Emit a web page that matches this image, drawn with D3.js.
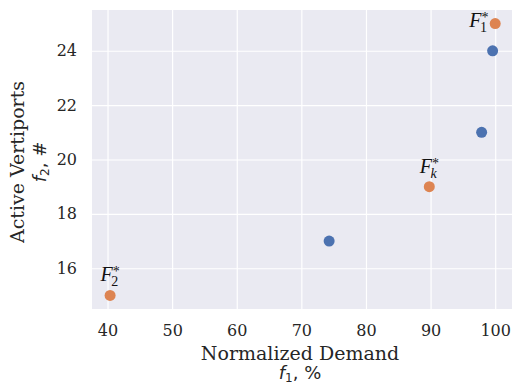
<!DOCTYPE html>
<html><head><meta charset="utf-8">
<script src="https://cdn.jsdelivr.net/npm/d3@7"></script>
<style>body{margin:0;background:#fff}</style>
</head><body>
<svg id="c" width="512" height="385"></svg>
<script>
// Data
const paretoX = [99.6, 97.9, 74.3];
const paretoY = [24, 21, 17];
const highlightX = [100, 89.8, 40.4];
const highlightY = [25, 19, 15];
const highlightSub = ["1", "k", "2"];
const xTicks = [40, 50, 60, 70, 80, 90, 100];
const yTicks = [16, 18, 20, 22, 24];

const svg = d3.select("#c");
const L = 92, R = 512, T = 10, B = 309;
const x = d3.scaleLinear().domain([37.6, 102.6]).range([L, R]);
const y = d3.scaleLinear().domain([14.5, 25.5]).range([B, T]);

svg.append("rect").attr("x", L).attr("y", T).attr("width", R - L).attr("height", B - T).attr("fill", "#eaeaf2");

const serif = "DejaVu Serif";
const xAxis = svg.append("g").attr("transform", `translate(0,${B})`)
  .call(d3.axisBottom(x).tickValues(xTicks).tickSize(-(B - T)).tickPadding(16));
const yAxis = svg.append("g").attr("transform", `translate(${L},0)`)
  .call(d3.axisLeft(y).tickValues(yTicks).tickSize(-(R - L)).tickPadding(15));
[xAxis, yAxis].forEach(g => {
  g.select(".domain").remove();
  g.selectAll(".tick line").attr("stroke", "#fff").attr("stroke-width", 1.2);
  g.selectAll(".tick text").attr("font-family", serif).attr("font-size", 16).attr("fill", "#262626");
});

const blue = "#4c72b0", orange = "#dd8452";
svg.append("g").selectAll("circle").data(paretoX).join("circle")
  .attr("cx", (d) => x(d)).attr("cy", (d, i) => y(paretoY[i])).attr("r", 5.5).attr("fill", blue);
svg.append("g").selectAll("circle").data(highlightX).join("circle")
  .attr("cx", (d) => x(d)).attr("cy", (d, i) => y(highlightY[i])).attr("r", 5.5).attr("fill", orange);

// Labels: F with stacked subscript and superscript
const labG = svg.append("g").attr("font-family", "Liberation Serif").attr("fill", "#111");
highlightX.forEach((d, i) => {
  const px = x(d), py = y(highlightY[i]);
  const right = i === 0;
  const W = 21; // approximate label width
  const x0 = right ? px - 5 - W : px - W / 2 + 1;
  const base = right ? py + 3.5 : py - 14;
  const F = labG.append("text").attr("x", x0).attr("y", base)
    .attr("font-style", "italic").attr("font-size", 20).text("F");
  const fw = F.node().getComputedTextLength();
  labG.append("text").attr("x", x0 + fw - 1.5).attr("y", base + 5)
    .attr("font-style", highlightSub[i] === "k" ? "italic" : "normal").attr("font-size", 14).text(highlightSub[i]);
  labG.append("text").attr("x", x0 + fw).attr("y", base - 5)
    .attr("font-size", 14).text("*");
});

// Axis labels
svg.append("text").attr("x", 300).attr("y", 360).attr("text-anchor", "middle")
  .attr("font-family", serif).attr("font-size", 19).attr("fill", "#262626").text("Normalized Demand");
const xl2 = svg.append("text").attr("x", 300).attr("y", 379).attr("text-anchor", "middle")
  .attr("font-family", "DejaVu Sans").attr("font-size", 18).attr("fill", "#262626");
xl2.append("tspan").attr("font-style", "italic").text("f");
xl2.append("tspan").attr("font-size", 12).attr("dy", 3).text("1");
xl2.append("tspan").attr("dy", -3).text(", %");

svg.append("text").attr("transform", `translate(24,162) rotate(-90)`).attr("text-anchor", "middle")
  .attr("font-family", serif).attr("font-size", 19).attr("fill", "#262626").text("Active Vertiports");
const yl2 = svg.append("text").attr("transform", `translate(46,162) rotate(-90)`).attr("text-anchor", "middle")
  .attr("font-family", "DejaVu Sans").attr("font-size", 18).attr("fill", "#262626");
yl2.append("tspan").attr("font-style", "italic").text("f");
yl2.append("tspan").attr("font-size", 12).attr("dy", 3).text("2");
yl2.append("tspan").attr("dy", -3).text(", #");
</script>
</body></html>
